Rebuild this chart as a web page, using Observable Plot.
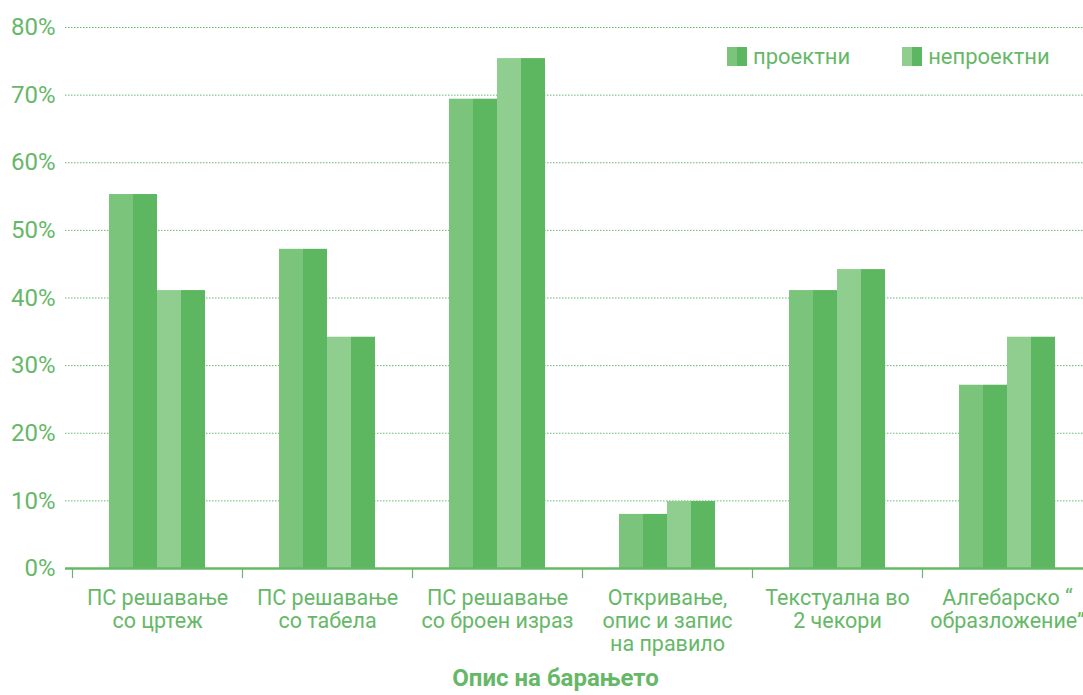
<!DOCTYPE html>
<html>
<head>
<meta charset="utf-8">
<script src="https://cdn.jsdelivr.net/npm/d3@7"></script>
<script src="https://cdn.jsdelivr.net/npm/@observablehq/plot@0.6"></script>
<style>
  html, body { margin: 0; padding: 0; background: #fff; }
  #wrap { position: relative; width: 1083px; height: 695px; font-family: Roboto, sans-serif; color: #66b868; overflow: hidden; }
  #legend { position: absolute; top: 44px; left: 727px; display: flex; align-items: center; font-size: 22px; }
  .item { display: flex; align-items: center; }
  .sw { display: inline-block; width: 10px; height: 19px; }
  .lab { margin-left: 6px; }
  #title { position: absolute; left: 0; width: 1111px; top: 664px; line-height: 28px; text-align: center; font-size: 24px; font-weight: bold; }
</style>
</head>
<body>
<div id="wrap">
  <div id="chart"></div>
  <div id="legend"></div>
  <div id="title"></div>
</div>
<script>
const categories = [
  "ПС решавање\nсо цртеж",
  "ПС решавање\nсо табела",
  "ПС решавање\nсо броен израз",
  "Откривање,\nопис и запис\nна правило",
  "Текстуална во\n2 чекори",
  "Алгебарско “\nобразложение”"
];
const seriesNames = ["проектни", "непроектни"];
const proektni = [55.3, 47.2, 69.4, 8.0, 41.1, 27.1];
const neproektni = [41.1, 34.2, 75.4, 9.9, 44.2, 34.2];
const yTicks = [0, 10, 20, 30, 40, 50, 60, 70, 80];
const axisTitle = "Опис на барањето";

const green = "#66b868";
const halfColors = {
  "проектни|a": "#7bc47b",
  "проектни|b": "#5db660",
  "непроектни|a": "#8fce8e",
  "непроектни|b": "#5db660"
};
const keys = Object.keys(halfColors);

const rows = [];
categories.forEach((cat, i) => {
  [proektni, neproektni].forEach((vals, s) => {
    ["a", "b"].forEach(h => rows.push({cat, key: seriesNames[s] + "|" + h, value: vals[i]}));
  });
});

// grid lines repeated in every facet (first facet extended left to the axis start)
const gridFirst = yTicks.slice(1).map(y => ({y, fx: categories[0]}));
const gridRest = categories.slice(1).flatMap(c => yTicks.slice(1).map(y => ({y, fx: c})));
const baseFirst = [{y: 0, fx: categories[0]}];
const baseRest = categories.slice(1).map(c => ({y: 0, fx: c}));
const labels = yTicks.map(y => ({y, fx: categories[0]}));

const chart = Plot.plot({
  width: 1083,
  height: 665,
  marginLeft: 65,
  marginRight: 0,
  marginTop: 27,
  marginBottom: 97,
  style: {fontFamily: "Roboto, sans-serif", color: green, background: "white", overflow: "hidden"},
  fx: {domain: categories, range: [72, 1092], paddingInner: 0, paddingOuter: 0, label: null},
  x: {domain: keys, paddingInner: 0, paddingOuter: 1.505, axis: null},
  y: {domain: [0, 80], axis: null},
  color: {domain: keys, range: keys.map(k => halfColors[k])},
  marks: [
    Plot.ruleY(gridFirst, {fx: "fx", y: "y", insetLeft: -7, stroke: green, strokeWidth: 1, strokeDasharray: "1.5,1.5"}),
    Plot.ruleY(gridRest, {fx: "fx", y: "y", stroke: green, strokeWidth: 1, strokeDasharray: "1.5,1.5"}),
    Plot.barY(rows, {fx: "cat", x: "key", y: "value", fill: "key"}),
    Plot.ruleY(baseFirst, {fx: "fx", y: "y", insetLeft: -7, stroke: green, strokeWidth: 2.5}),
    Plot.ruleY(baseRest, {fx: "fx", y: "y", stroke: green, strokeWidth: 2.5}),
    Plot.frame({anchor: "left", insetTop: 541, insetBottom: -9, stroke: green, strokeWidth: 1.2}),
    Plot.text(labels, {fx: "fx", y: "y", text: d => d.y + "%", frameAnchor: "left", textAnchor: "end", dx: -17, fontSize: 24, fill: green}),
    Plot.axisFx({anchor: "bottom", tickSize: 0, tickPadding: 20, fontSize: 21.5, lineHeight: 1.08, fill: green, label: null})
  ]
});
document.getElementById("chart").appendChild(chart);

const legend = document.getElementById("legend");
seriesNames.forEach((name, i) => {
  const item = document.createElement("div");
  item.className = "item";
  if (i > 0) item.style.marginLeft = "52px";
  ["a", "b"].forEach(h => {
    const sw = document.createElement("span");
    sw.className = "sw";
    sw.style.background = halfColors[name + "|" + h];
    item.appendChild(sw);
  });
  const lab = document.createElement("span");
  lab.className = "lab";
  lab.textContent = name;
  item.appendChild(lab);
  legend.appendChild(item);
});
document.getElementById("title").textContent = axisTitle;
</script>
</body>
</html>
